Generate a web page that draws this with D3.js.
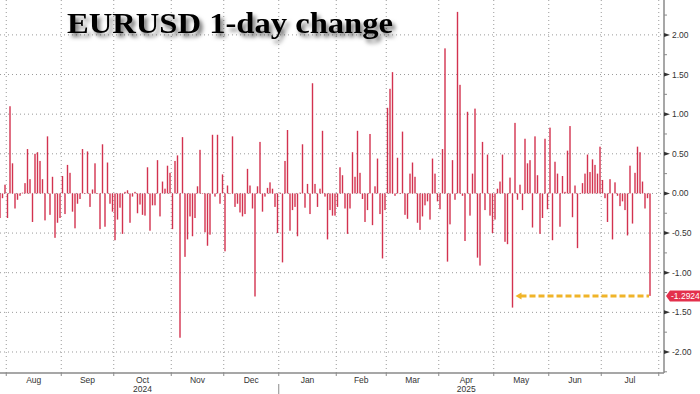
<!DOCTYPE html>
<style>
body { margin: 0; background: #fff; }
svg { display: block; font-family: "Liberation Sans", Arial, sans-serif; }
</style>
<svg width="700" height="394"></svg>
<script src="https://d3js.org/d3.v7.min.js"></script>
<script>
// daily % change of EURUSD, one value per weekday from 29 Jul 2024 to 28 Jul 2025
const changes = [
  -0.31,-0.06,0.11,-0.31,1.10,0.38,-0.19,-0.08,-0.03,0.01,
  0.13,0.56,0.18,-0.36,0.50,0.52,0.41,0.18,-0.34,0.72,
  -0.27,0.21,-0.56,-0.37,-0.31,0.22,-0.26,0.36,0.26,-0.23,
  -0.44,-0.13,-0.07,0.56,0.00,0.53,-0.17,0.05,0.38,0.00,
  -0.45,0.62,-0.42,0.39,-0.13,-0.23,-0.59,-0.33,-0.18,-0.51,
  0.02,0.04,-0.37,-0.04,0.02,-0.25,-0.14,-0.27,-0.28,0.33,
  -0.47,-0.15,-0.15,0.42,-0.29,0.15,0.06,0.35,
  0.26,-0.45,0.41,0.48,-1.82,0.71,-0.80,-0.58,-0.29,-0.54,
  -0.31,0.09,0.55,0.00,-0.49,-0.66,-0.52,0.74,-0.04,0.74,
  -0.13,0.24,-0.73,0.10,0.00,0.72,-0.17,-0.13,-0.24,-0.29,
  -0.26,0.31,0.10,-0.19,-1.30,0.09,0.65,-0.23,-0.04,0.07,
  0.14,0.06,-0.17,-0.50,0.01,-0.87,0.41,0.80,-0.47,-0.21,
  -0.17,-0.54,0.01,0.62,-0.18,0.12,-0.26,1.39,0.12,-0.17,
  0.06,0.79,-0.04,-0.58,-0.21,-0.28,
  -0.28,-0.17,0.33,0.23,-0.19,-0.51,-0.19,0.52,0.21,0.79,
  0.26,-0.07,-0.36,-0.21,0.75,-0.40,0.09,0.44,-0.26,-0.82,
  -0.21,1.08,1.32,1.53,-0.03,0.45,0.00,0.78,-0.27,-0.32,
  0.25,0.39,0.21,-0.37,-0.46,-0.29,-0.15,-0.10,-0.33,0.44,
  0.25,-0.10,-0.20,0.56,1.83,-0.86,-0.39,0.42,-0.08,2.29,
  1.37,-0.03,-0.60,1.03,-0.28,0.25,1.07,-0.81,-0.91,0.65,
  -0.21,0.49,-0.28,-0.50,-0.33,0.06,0.15,
  0.49,-0.61,-0.64,0.20,-1.44,0.89,-0.08,0.11,-0.21,0.69,
  0.38,0.42,-0.43,0.72,0.23,-0.51,-0.31,0.69,-0.20,0.83,
  -0.59,0.40,0.25,-0.42,0.22,0.02,0.54,0.85,-0.30,0.10,
  -0.69,0.00,0.13,0.25,0.49,0.27,0.43,0.36,0.25,0.59,
  0.17,-0.06,-0.36,0.18,-0.58,0.14,-0.03,-0.16,-0.10,-0.21,
  -0.53,0.35,-0.38,0.26,0.59,0.52,0.15,-0.19,-0.06,-1.2924
];

const firstDay = "2024-07-29";
const monthStarts = ["2024-08-01","2024-09-01","2024-10-01","2024-11-01","2024-12-01","2025-01-01",
                     "2025-02-01","2025-03-01","2025-04-01","2025-05-01","2025-06-01","2025-07-01","2025-08-01"];
const monthLabels = ["Aug","Sep","Oct","Nov","Dec","Jan","Feb","Mar","Apr","May","Jun","Jul"];
const yearLabels = ["2024","2025"];
const yearUnder = ["Oct","Apr"];       // year printed under this month
const yearBreak = "2025-01-01";
const yTicks = [-2, -1.5, -1, -0.5, 0, 0.5, 1, 1.5, 2];
const lastLabel = "-1.2924";

const svg = d3.select("svg"),
      margin = {top: 0, right: 36, bottom: 21, left: 0},
      width = +svg.attr("width") - margin.left - margin.right,
      height = +svg.attr("height") - margin.top - margin.bottom,
      g = svg.append("g").attr("transform", "translate(" + margin.left + "," + margin.top + ")");

// weekdays used as the bar slots (bars are evenly spaced, like the terminal does)
const days = d3.utcDay.range(new Date(firstDay), new Date("2025-08-09"))
	.filter(d => d.getUTCDay() !== 0 && d.getUTCDay() !== 6);
const slot = (s) => d3.bisector(d => d).left(days, new Date(s)) - 0.5;

const xScale = d3.scaleLinear().domain([0, 265.6]).range([0, width]),
      yScale = d3.scaleLinear().domain([-2.265, 2.44]).range([height, 0]);

const defs = svg.append("defs");
defs.append("filter").attr("id", "shadow")
	.attr("x", "-10%").attr("y", "-30%").attr("width", "130%").attr("height", "180%")
	.append("feDropShadow")
	.attr("dx", 3).attr("dy", 4).attr("stdDeviation", 2.2)
	.attr("flood-color", "#000").attr("flood-opacity", 0.55);

// grid
const bounds = monthStarts.map(slot);
g.append("g").selectAll("line").data(yTicks).enter().append("line")
	.attr("x1", 0).attr("x2", width)
	.attr("y1", d => yScale(d)).attr("y2", d => yScale(d))
	.attr("stroke", "#9a9a9a").attr("stroke-width", 1).attr("stroke-dasharray", "1,3");
g.append("g").selectAll("line").data(bounds).enter().append("line")
	.attr("x1", d => xScale(d)).attr("x2", d => xScale(d))
	.attr("y1", 0).attr("y2", height)
	.attr("stroke", "#9a9a9a").attr("stroke-width", 1).attr("stroke-dasharray", "1,3");

// title
svg.append("text")
	.attr("x", 67).attr("y", 33)
	.attr("font-family", "'Liberation Serif', 'Times New Roman', serif")
	.attr("font-weight", "bold")
	.attr("font-size", 30)
	.attr("textLength", 326).attr("lengthAdjust", "spacingAndGlyphs")
	.attr("fill", "#000")
	.attr("filter", "url(#shadow)")
	.text("EURUSD 1-day change");

// bars
g.append("g").selectAll("rect").data(changes).enter().append("rect")
	.attr("x", (d, i) => xScale(i) - 0.7)
	.attr("width", 1.4)
	.attr("y", d => yScale(Math.max(0, d)))
	.attr("height", d => Math.max(0.6, Math.abs(yScale(d) - yScale(0))))
	.attr("fill", "#d3324f");

// orange arrow from the May low to the last bar
const last = changes.length - 1;
const lowIdx = d3.minIndex(changes.slice(180, last)) + 180;
const ay = yScale(changes[last]);
const ax0 = xScale(lowIdx) + 3, ax1 = xScale(last) - 1;
g.append("line")
	.attr("x1", ax0 + 5).attr("x2", ax1)
	.attr("y1", ay).attr("y2", ay)
	.attr("stroke", "#f0b429").attr("stroke-width", 3)
	.attr("stroke-dasharray", "6,3");
g.append("path")
	.attr("d", `M${ax0},${ay} L${ax0 + 6},${ay - 3.5} L${ax0 + 6},${ay + 3.5} Z`)
	.attr("fill", "#f0b429");

// right axis
g.append("line")
	.attr("x1", width).attr("x2", width).attr("y1", 0).attr("y2", height)
	.attr("stroke", "#8a8a8a").attr("stroke-width", 1.5);
g.append("g").selectAll("line").data(d3.range(-2.25, 2.5, 0.25)).enter().append("line")
	.attr("x1", width).attr("x2", width + 3)
	.attr("y1", d => yScale(d)).attr("y2", d => yScale(d))
	.attr("stroke", "#8a8a8a").attr("stroke-width", 1);
g.append("g").selectAll("path").data(yTicks).enter().append("path")
	.attr("d", d => `M${width},${yScale(d) - 2} L${width + 6},${yScale(d)} L${width},${yScale(d) + 2} Z`)
	.attr("fill", "#333");
g.append("g").selectAll("text").data(yTicks).enter().append("text")
	.attr("x", width + 8).attr("y", d => yScale(d) + 3)
	.attr("font-size", 8.5).attr("fill", "#333")
	.text(d => d.toFixed(2));

// last value tag
g.append("path")
	.attr("d", `M${width + 2},${ay} L${width + 6},${ay - 5.5} L${width + 36},${ay - 5.5} L${width + 36},${ay + 5.5} L${width + 6},${ay + 5.5} Z`)
	.attr("fill", "#e3304c");
g.append("text")
	.attr("x", width + 7).attr("y", ay + 3)
	.attr("font-size", 8.5).attr("fill", "#fff")
	.text(lastLabel);

// bottom axis
g.append("line")
	.attr("x1", 0).attr("x2", width).attr("y1", height).attr("y2", height)
	.attr("stroke", "#8a8a8a").attr("stroke-width", 1.5);
g.append("g").selectAll("line").data(bounds).enter().append("line")
	.attr("x1", d => xScale(d)).attr("x2", d => xScale(d))
	.attr("y1", height).attr("y2", height + 3)
	.attr("stroke", "#8a8a8a");
const mid = monthLabels.map((m, i) => (xScale(bounds[i]) + xScale(bounds[i + 1])) / 2);
g.append("g").selectAll("text").data(monthLabels).enter().append("text")
	.attr("x", (d, i) => mid[i]).attr("y", height + 10)
	.attr("text-anchor", "middle")
	.attr("font-size", 8.5).attr("fill", "#333")
	.text(d => d);
g.append("g").selectAll("text").data(yearLabels).enter().append("text")
	.attr("x", (d, i) => mid[monthLabels.indexOf(yearUnder[i])]).attr("y", height + 19)
	.attr("text-anchor", "middle")
	.attr("font-size", 8.5).attr("fill", "#333")
	.text(d => d);
g.append("line")
	.attr("x1", xScale(slot(yearBreak))).attr("x2", xScale(slot(yearBreak)))
	.attr("y1", height + 11).attr("y2", height + 21)
	.attr("stroke", "#8a8a8a");
</script>
